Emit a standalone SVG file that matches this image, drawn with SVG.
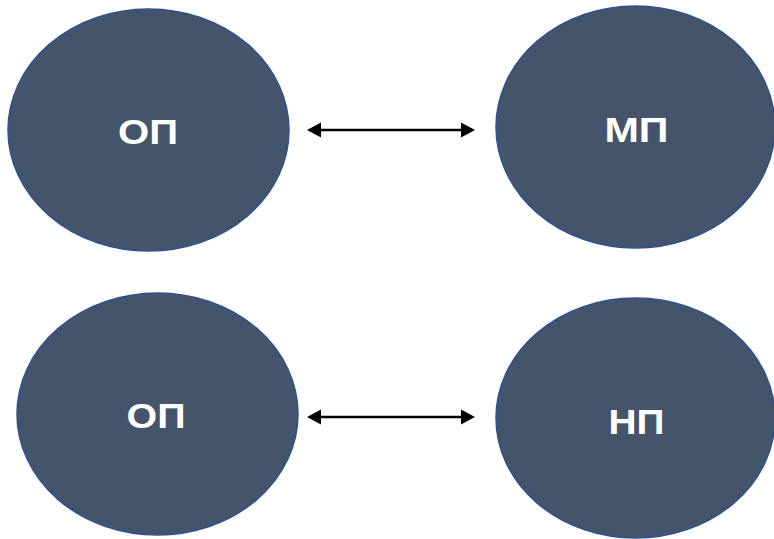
<svg xmlns="http://www.w3.org/2000/svg" width="774" height="539" viewBox="0 0 774 539">
<style>
.node{fill:#44546A;stroke:#2F528F;stroke-width:1.5}
.lbl{fill:#FFFFFF;font-family:"Liberation Sans",Arial,sans-serif;font-weight:bold;font-size:35px;text-anchor:middle}
.conn{stroke:#000;stroke-width:2.5;fill:none}
.head{fill:#000}
</style>
<rect width="774" height="539" fill="#FFFFFF"/>
<g id="node-op1"><ellipse class="node" cx="148.5" cy="130" rx="140.5" ry="121"/><text class="lbl" x="148" y="144" textLength="60" lengthAdjust="spacingAndGlyphs">ОП</text></g>
<g id="node-mp"><ellipse class="node" cx="635.5" cy="127" rx="139.5" ry="121"/><text class="lbl" x="636.5" y="142" textLength="64" lengthAdjust="spacingAndGlyphs">МП</text></g>
<g id="node-op2"><ellipse class="node" cx="157.5" cy="414" rx="140.5" ry="121"/><text class="lbl" x="156" y="428" textLength="59" lengthAdjust="spacingAndGlyphs">ОП</text></g>
<g id="node-np"><ellipse class="node" cx="635.5" cy="418" rx="139.5" ry="120"/><text class="lbl" x="636.5" y="434" textLength="56" lengthAdjust="spacingAndGlyphs">НП</text></g>
<g id="connectors">
<line class="conn" x1="318" y1="130" x2="464" y2="130"/>
<polygon class="head" points="307,130 321,122.5 321,137.5"/>
<polygon class="head" points="475,130 461,122.5 461,137.5"/>
<line class="conn" x1="318" y1="417" x2="464" y2="417"/>
<polygon class="head" points="307,417 321,409.5 321,424.5"/>
<polygon class="head" points="475,417 461,409.5 461,424.5"/>
</g>
</svg>
